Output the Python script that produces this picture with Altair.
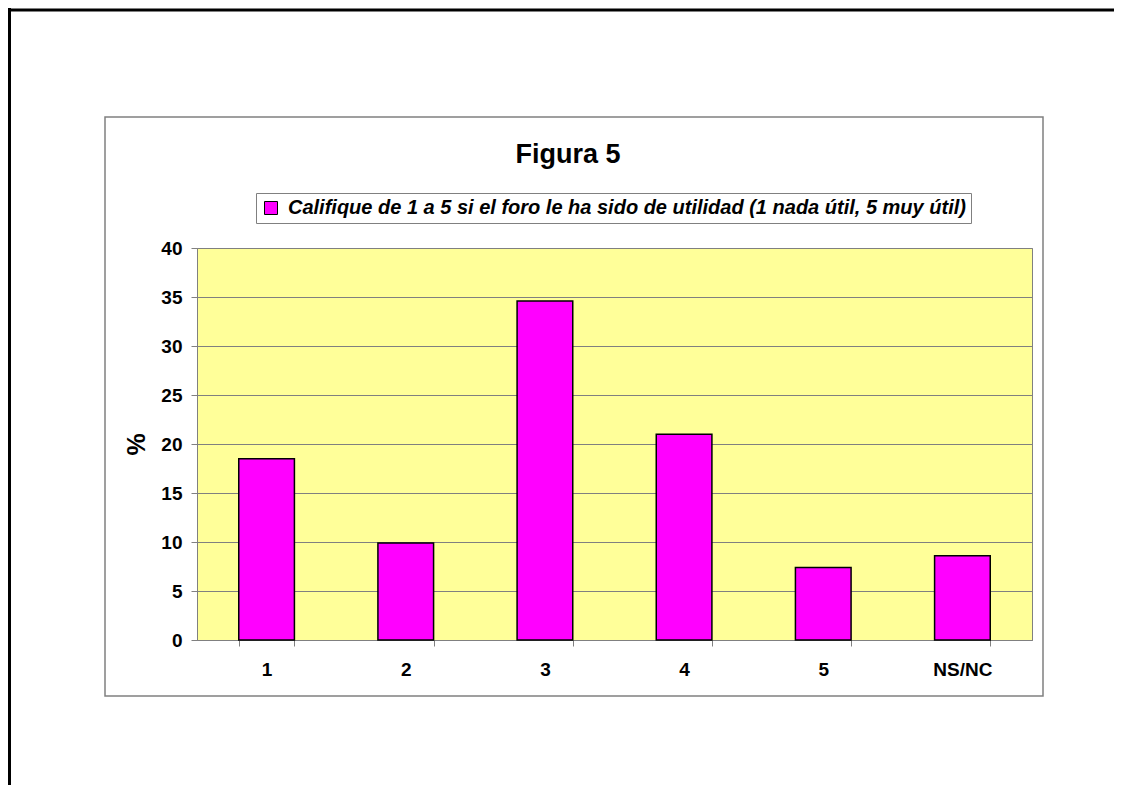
import altair as alt
import pandas as pd

categories = ["1", "2", "3", "4", "5", "NS/NC"]
values = [18.5, 9.9, 34.6, 21.0, 7.4, 8.6]
series_name = "Califique de 1 a 5 si el foro le ha sido de utilidad (1 nada útil, 5 muy útil)"
title_text = "Figura 5"
y_title = "%"
y_ticks = [0, 5, 10, 15, 20, 25, 30, 35, 40]

df = pd.DataFrame({"cat": categories, "val": values, "serie": [series_name] * len(categories)})
one = pd.DataFrame({"k": [0]})

FONT = "Liberation Sans"
GRAY = "#808080"

bars = alt.Chart(df).mark_bar(stroke="black", strokeWidth=1.5).encode(
    x=alt.X("cat:N", sort=categories,
            scale=alt.Scale(paddingInner=0.6, paddingOuter=0.3),
            axis=alt.Axis(title=None, labelAngle=0, tickBand="extent", ticks=True, tickSize=6,
                          tickColor=GRAY, tickWidth=1, domainColor=GRAY, labelPadding=14,
                          labelFont=FONT, labelFontSize=19, labelFontWeight="bold",
                          labelColor="black", grid=False)),
    y=alt.Y("val:Q", scale=alt.Scale(domain=[0, 40], nice=False),
            axis=alt.Axis(title=y_title, values=y_ticks, tickSize=6, tickColor=GRAY,
                          domainColor=GRAY, gridColor=GRAY, gridOpacity=1, grid=True,
                          labelPadding=9, labelFont=FONT, labelFontSize=19,
                          labelFontWeight="bold", labelColor="black",
                          titleFont=FONT, titleFontSize=25, titleFontWeight="bold",
                          titleColor="black", titleAngle=270, titleX=-61, titleY=196,
                          titleAlign="center", titleBaseline="middle")),
    color=alt.Color("serie:N", scale=alt.Scale(domain=[series_name], range=["#FF00FF"]),
                    legend=alt.Legend(title=None, orient="none", legendX=59, legendY=-55,
                                      symbolType="square", symbolSize=169,
                                      symbolStrokeColor="black", symbolStrokeWidth=1,
                                      labelFont=FONT, labelFontSize=20,
                                      labelFontStyle="italic", labelFontWeight="bold",
                                      labelColor="black", labelLimit=2000, labelOffset=7,
                                      strokeColor=GRAY, fillColor="white", padding=5)),
)

inner_box = alt.Chart(one).mark_rect(fill="white", fillOpacity=0, stroke=GRAY, strokeWidth=1.5).encode(
    x=alt.value(-92), x2=alt.value(846), y=alt.value(-131), y2=alt.value(448)
)
top_line = alt.Chart(one).mark_rule(color="black", strokeWidth=3).encode(
    x=alt.value(-189), x2=alt.value(917), y=alt.value(-238)
)
left_line = alt.Chart(one).mark_rule(color="black", strokeWidth=3).encode(
    x=alt.value(-187.5), y=alt.value(-240), y2=alt.value(537)
)
title = alt.Chart(one).mark_text(text=title_text, font=FONT, fontSize=27, fontWeight="bold",
                                 color="black", align="center", baseline="alphabetic").encode(
    x=alt.value(371), y=alt.value(-85)
)

chart = alt.layer(inner_box, top_line, left_line, title, bars).properties(
    width=835, height=392,
    background="white",
    autosize=alt.AutoSizeParams(type="none"),
    padding={"left": 189, "top": 240, "right": 82, "bottom": 145},
).configure_view(fill="#FFFF99", stroke=GRAY, strokeWidth=1)

chart.save("out.html", embed_options={"renderer": "svg", "actions": False})
